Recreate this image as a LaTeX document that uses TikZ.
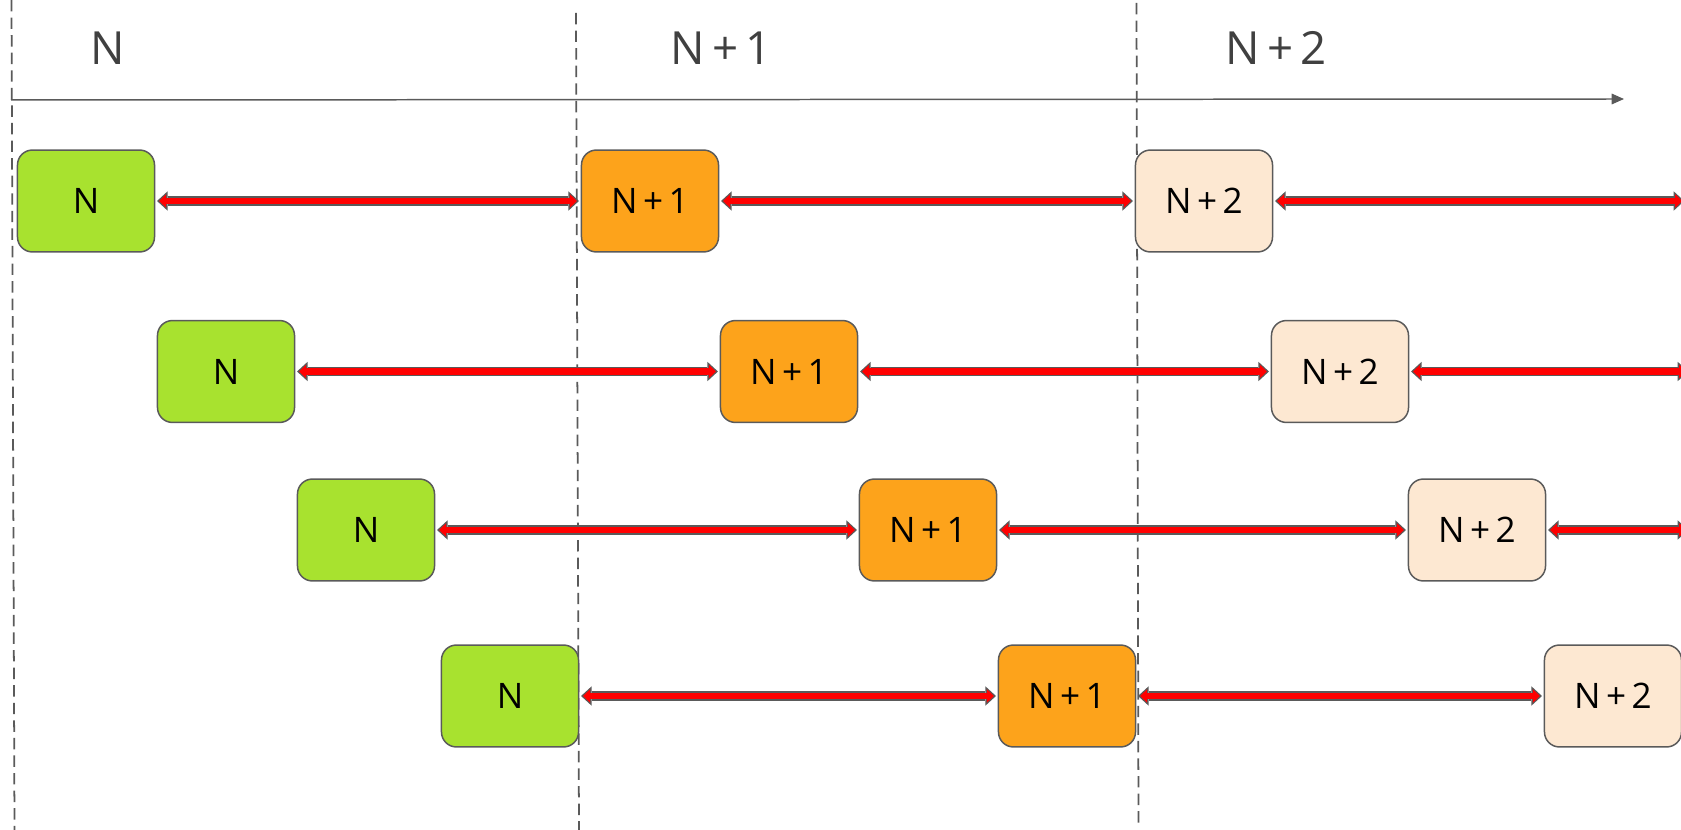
\documentclass[tikz,border=0pt]{standalone}
\usepackage{fontspec}
\setmainfont{Open Sans}[WordSpace=0.6]
\usetikzlibrary{arrows.meta}

\definecolor{leafgreen}{HTML}{A8E22F}
\definecolor{amber}{HTML}{FDA31B}
\definecolor{cream}{HTML}{FDE8D2}
\definecolor{edgegray}{HTML}{5A5A5A}
\definecolor{textgray}{HTML}{404040}

\begin{document}
\begin{tikzpicture}[
      x=0.02cm, y=-0.02cm,
      block/.style={draw=edgegray, line width=0.85pt, rounded corners=8.5pt, align=center,
        minimum width=78pt, minimum height=58pt, font=\fontsize{20}{23}\selectfont},
      blockN/.style={block, fill=leafgreen},
      blockNa/.style={block, fill=amber},
      blockNb/.style={block, fill=cream},
      cycle/.style={text=textgray, font=\fontsize{26}{30}\selectfont},
      guide/.style={draw=edgegray, line width=1pt, dash pattern=on 6.5pt off 3.5pt},
      link/.style={draw=red, line width=3.6pt, shorten <=2.2pt, shorten >=2.2pt,
        {Triangle[length=4pt, width=7.8pt, line width=0pt]}-{Triangle[length=4pt, width=7.8pt, line width=0pt]},
        preaction={draw=edgegray, line width=5.6pt, shorten <=1pt, shorten >=1pt,
        {Triangle[length=6pt, width=11pt, line width=0pt]}-{Triangle[length=6pt, width=11pt, line width=0pt]}}}
    ]
    \useasboundingbox (0,0) rectangle (1681,830);

    % Cycle guides
    \coordinate (g0top) at (11.5,0);    \coordinate (g0bot) at (14.5,830);
    \coordinate (g1top) at (576,13);    \coordinate (g1bot) at (579,830);
    \coordinate (g2top) at (1136.5,3);  \coordinate (g2bot) at (1138.5,824);
    \draw[guide] (g0top) -- (g0bot);
    \draw[guide] (g1top) -- (g1bot);
    \draw[guide] (g2top) -- (g2bot);

    % Time axis
    \coordinate (axisstart) at (11,100);
    \coordinate (axisend) at (1624,99);
    \draw[draw=edgegray, line width=0.85pt, -{Triangle[length=7pt, width=6pt]}] (axisstart) -- (axisend);
    \node[cycle] (capN) at (108,48) {N};
    \node[cycle] (capNa) at (721,48) {N + 1};
    \node[cycle] (capNb) at (1276,48) {N + 2};

    % Nodes
    \node[blockN] (r1n) at (86,201) {N};
    \node[blockNa] (r1a) at (650,201) {N + 1};
    \node[blockNb] (r1b) at (1204,201) {N + 2};

    \node[blockN] (r2n) at (226,371.5) {N};
    \node[blockNa] (r2a) at (789,371.5) {N + 1};
    \node[blockNb] (r2b) at (1340,371.5) {N + 2};

    \node[blockN] (r3n) at (366,530) {N};
    \node[blockNa] (r3a) at (928,530) {N + 1};
    \node[blockNb] (r3b) at (1477,530) {N + 2};

    \node[blockN] (r4n) at (510,696) {N};
    \node[blockNa] (r4a) at (1067,696) {N + 1};
    \node[blockNb] (r4b) at (1613,696) {N + 2};

    % Links running off the right edge
    \coordinate (r1out) at (1686,201);
    \coordinate (r2out) at (1690,371.5);
    \coordinate (r3out) at (1690,530);

    % Arrows between stages
    \draw[link] (r1n.east) -- (r1a.west);
    \draw[link] (r1a.east) -- (r1b.west);
    \draw[link] (r1b.east) -- (r1out);
    \draw[link] (r2n.east) -- (r2a.west);
    \draw[link] (r2a.east) -- (r2b.west);
    \draw[link] (r2b.east) -- (r2out);
    \draw[link] (r3n.east) -- (r3a.west);
    \draw[link] (r3a.east) -- (r3b.west);
    \draw[link] (r3b.east) -- (r3out);
    \draw[link] (r4n.east) -- (r4a.west);
    \draw[link] (r4a.east) -- (r4b.west);
  \end{tikzpicture}
\end{document}
